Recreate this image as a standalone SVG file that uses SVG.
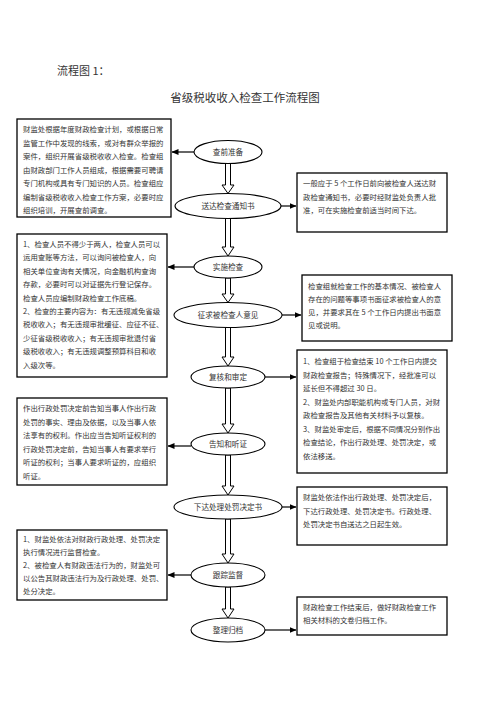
<svg xmlns="http://www.w3.org/2000/svg" width="496" height="702" viewBox="0 0 496 702">
<defs>
<marker id="ah" markerWidth="7" markerHeight="6" refX="6.5" refY="3" orient="auto" markerUnits="userSpaceOnUse">
<path d="M0,0 L7,3 L0,6 Z" fill="#000"/>
</marker>
</defs>
<style>
text{font-family:"Noto Sans CJK SC","Noto Sans",sans-serif;fill:#333;}
.t{font-size:7.4px;}
.n{font-size:7.6px;text-anchor:middle;}
.box{fill:#fff;stroke:#000;stroke-width:1.3;}
.ov{fill:#fff;stroke:#000;stroke-width:1.1;}
.ln{stroke:#000;stroke-width:1.2;fill:none;marker-end:url(#ah);}
.ha{fill:#fff;stroke:#000;stroke-width:1;}
</style>
<rect width="496" height="702" fill="#fff"/>
<text x="57" y="75" style="font-size:11px">流程图 1：</text>
<text x="245" y="102" style="font-size:11.5px;text-anchor:middle">省级税收收入检查工作流程图</text>

<g id="connectors">
<line class="ln" x1="194" y1="152" x2="172" y2="152"/>
<line class="ln" x1="281" y1="206" x2="296" y2="206"/>
<line class="ln" x1="194" y1="267" x2="168" y2="267"/>
<line class="ln" x1="282" y1="315" x2="301" y2="315"/>
<line class="ln" x1="265" y1="377" x2="296" y2="377"/>
<line class="ln" x1="191" y1="446" x2="168" y2="446"/>
<line class="ln" x1="282" y1="507" x2="296" y2="507"/>
<line class="ln" x1="191" y1="575" x2="168" y2="575"/>
<line class="ln" x1="265" y1="630" x2="296" y2="630"/>
<path class="ha" d="M225.5,163.5 L230.5,163.5 L230.5,185 L234,185 L228,193.5 L222,185 L225.5,185 Z"/>
<path class="ha" d="M225.5,218.5 L230.5,218.5 L230.5,247 L234,247 L228,256 L222,247 L225.5,247 Z"/>
<path class="ha" d="M225.5,278 L230.5,278 L230.5,294 L234,294 L228,302.5 L222,294 L225.5,294 Z"/>
<path class="ha" d="M225.5,327.5 L230.5,327.5 L230.5,357 L234,357 L228,366 L222,357 L225.5,357 Z"/>
<path class="ha" d="M225.5,388 L230.5,388 L230.5,424 L234,424 L228,433 L222,424 L225.5,424 Z"/>
<path class="ha" d="M225.5,455 L230.5,455 L230.5,486 L234,486 L228,495 L222,486 L225.5,486 Z"/>
<path class="ha" d="M225.5,519 L230.5,519 L230.5,554 L234,554 L228,563 L222,554 L225.5,554 Z"/>
<path class="ha" d="M225.5,587 L230.5,587 L230.5,609 L234,609 L228,618 L222,609 L225.5,609 Z"/>
</g>

<g id="n1"><ellipse class="ov" cx="228" cy="152" rx="34" ry="11.5"/><text class="n" x="228" y="155">查前准备</text></g>
<g id="n2"><ellipse class="ov" cx="228" cy="206" rx="53" ry="12.5"/><text class="n" x="228" y="209">送达检查通知书</text></g>
<g id="n3"><ellipse class="ov" cx="228" cy="267" rx="34" ry="11"/><text class="n" x="228" y="270">实施检查</text></g>
<g id="n4"><ellipse class="ov" cx="228" cy="315" rx="54" ry="12.5"/><text class="n" x="228" y="318">征求被检查人意见</text></g>
<g id="n5"><ellipse class="ov" cx="228" cy="377" rx="37" ry="11"/><text class="n" x="228" y="380">复核和审定</text></g>
<g id="n6"><ellipse class="ov" cx="228" cy="444" rx="37" ry="11"/><text class="n" x="228" y="447">告知和听证</text></g>
<g id="n7"><ellipse class="ov" cx="228" cy="507" rx="54" ry="12"/><text class="n" x="228" y="510">下达处理处罚决定书</text></g>
<g id="n8"><ellipse class="ov" cx="228" cy="575" rx="37" ry="12"/><text class="n" x="228" y="578">跟踪监督</text></g>
<g id="n9"><ellipse class="ov" cx="228" cy="630" rx="37" ry="12"/><text class="n" x="228" y="633">整理归档</text></g>

<g id="b1"><rect class="box" x="17" y="119" width="154" height="98"/>
<text class="t" x="23" y="132">财监处根据年度财政检查计划，或根据日常</text>
<text class="t" x="23" y="145.5">监管工作中发现的线索，或对有群众举报的</text>
<text class="t" x="23" y="159">案件，组织开展省级税收收入检查。检查组</text>
<text class="t" x="23" y="172.5">由财政部门工作人员组成，根据需要可聘请</text>
<text class="t" x="23" y="186">专门机构或具有专门知识的人员。检查组应</text>
<text class="t" x="23" y="199.5">编制省级税收收入检查工作方案，必要时应</text>
<text class="t" x="23" y="213">组织培训，开展查前调查。</text>
</g>

<g id="b2"><rect class="box" x="297" y="173" width="150" height="59"/>
<text class="t" x="303" y="186">一般应于 5 个工作日前向被检查人送达财</text>
<text class="t" x="303" y="199.5">政检查通知书，必要时经财监处负责人批</text>
<text class="t" x="303" y="213">准，可在实施检查前适当时间下达。</text>
</g>

<g id="b3"><rect class="box" x="17" y="234" width="150" height="143"/>
<text class="t" x="23" y="247">1、检查人员不得少于两人，检查人员可以</text>
<text class="t" x="23" y="260.4">运用查账等方法，可以询问被检查人，向</text>
<text class="t" x="23" y="273.8">相关单位查询有关情况，向金融机构查询</text>
<text class="t" x="23" y="287.2">存款，必要时可以对证据先行登记保存。</text>
<text class="t" x="23" y="300.6">检查人员应编制财政检查工作底稿。</text>
<text class="t" x="23" y="314">2、检查的主要内容为：有无违规减免省级</text>
<text class="t" x="23" y="327.4">税收收入；有无违规审批缓征、应征不征、</text>
<text class="t" x="23" y="340.8">少征省级税收收入；有无违规审批退付省</text>
<text class="t" x="23" y="354.2">级税收收入；有无违规调整预算科目和收</text>
<text class="t" x="23" y="367.6">入级次等。</text>
</g>

<g id="b4"><rect class="box" x="302" y="275" width="150" height="66"/>
<text class="t" x="308" y="289">检查组就检查工作的基本情况、被检查人</text>
<text class="t" x="308" y="302">存在的问题等事项书面征求被检查人的意</text>
<text class="t" x="308" y="315">见，并要求其在 5 个工作日内提出书面意</text>
<text class="t" x="308" y="328">见或说明。</text>
</g>

<g id="b5"><rect class="box" x="17" y="398" width="150" height="87"/>
<text class="t" x="23" y="411">作出行政处罚决定前告知当事人作出行政</text>
<text class="t" x="23" y="424.5">处罚的事实、理由及依据，以及当事人依</text>
<text class="t" x="23" y="438">法享有的权利。作出应当告知听证权利的</text>
<text class="t" x="23" y="451.5">行政处罚决定前，告知当事人有要求举行</text>
<text class="t" x="23" y="465">听证的权利；当事人要求听证的，应组织</text>
<text class="t" x="23" y="478.5">听证。</text>
</g>

<g id="b6"><rect class="box" x="297" y="350" width="150" height="123"/>
<text class="t" x="303" y="364">1、检查组于检查结束 10 个工作日内提交</text>
<text class="t" x="303" y="377.5">财政检查报告；特殊情况下，经批准可以</text>
<text class="t" x="303" y="391">延长但不得超过 30 日。</text>
<text class="t" x="303" y="404.5">2、财监处内部职能机构或专门人员，对财</text>
<text class="t" x="303" y="418">政检查报告及其他有关材料予以复核。</text>
<text class="t" x="303" y="431.5">3、财监处审定后，根据不同情况分别作出</text>
<text class="t" x="303" y="445">检查结论，作出行政处理、处罚决定，或</text>
<text class="t" x="303" y="458.5">依法移送。</text>
</g>

<g id="b7"><rect class="box" x="297" y="487" width="150" height="58"/>
<text class="t" x="303" y="500">财监处依法作出行政处理、处罚决定后，</text>
<text class="t" x="303" y="513.5">下达行政处理、处罚决定书。行政处理、</text>
<text class="t" x="303" y="527">处罚决定书自送达之日起生效。</text>
</g>

<g id="b8"><rect class="box" x="17" y="530" width="150" height="70"/>
<text class="t" x="23" y="542">1、财监处依法对财政行政处理、处罚决定</text>
<text class="t" x="23" y="555">执行情况进行监督检查。</text>
<text class="t" x="23" y="568">2、被检查人有财政违法行为的，财监处可</text>
<text class="t" x="23" y="581">以公告其财政违法行为及行政处理、处罚、</text>
<text class="t" x="23" y="594">处分决定。</text>
</g>

<g id="b9"><rect class="box" x="297" y="597" width="150" height="38"/>
<text class="t" x="303" y="610">财政检查工作结束后，做好财政检查工作</text>
<text class="t" x="303" y="623">相关材料的文卷归档工作。</text>
</g>
</svg>
